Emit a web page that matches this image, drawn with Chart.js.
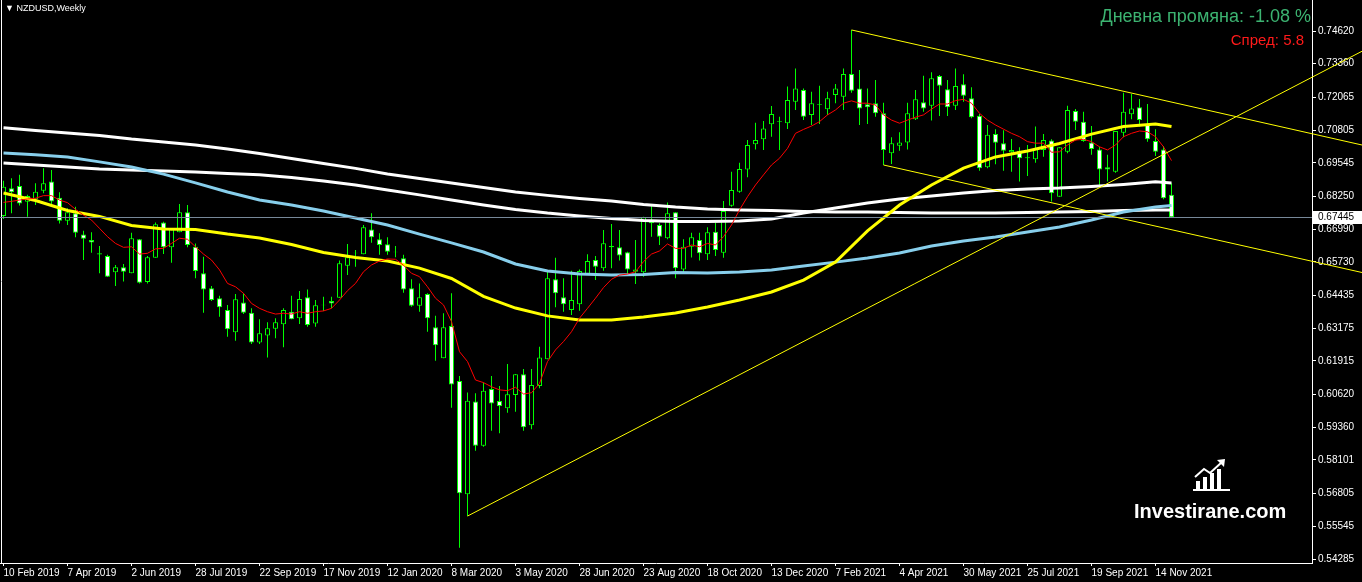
<!DOCTYPE html>
<html>
<head>
<meta charset="utf-8">
<script src="https://cdn.jsdelivr.net/npm/chart.js@4.4.0/dist/chart.umd.min.js"></script>
<style>
  html, body { margin: 0; padding: 0; background: #000; }
  #wrap { position: relative; width: 1362px; height: 582px; overflow: hidden; background: #000; }
  #chart { position: absolute; left: 0; top: 0; }
  .txt { position: absolute; font-family: 'Liberation Sans', Arial, sans-serif; white-space: nowrap; line-height: 1; }
  #sym { left: 5px; top: 4px; font-size: 9px; color: #fff; }
  #chg { right: 51px; top: 7px; font-size: 18px; color: #3cb371; }
  #spr { right: 58px; top: 32px; font-size: 15px; color: #ff1a1a; }
  #logo { left: 1134px; top: 457px; width: 160px; height: 64px; }
  #logo svg { position: absolute; left: 58px; top: 0; }
  #logo span { position: absolute; left: 0; top: 43px; font: bold 20px 'Liberation Sans', Arial, sans-serif; color: #fff; }
</style>
</head>
<body>
<div id="wrap">
  <canvas id="chart" width="1362" height="582"></canvas>
  <div class="txt" id="sym">&#9660; NZDUSD,Weekly</div>
  <div class="txt" id="chg">Дневна промяна: -1.08 %</div>
  <div class="txt" id="spr">Спред: 5.8</div>
  <div class="txt" id="logo">
    <svg width="40" height="34" viewBox="0 0 40 34">
      <g fill="#fff">
        <rect x="4" y="24" width="4" height="8"/>
        <rect x="11" y="20" width="4" height="12"/>
        <rect x="18" y="16" width="4" height="16"/>
        <rect x="25" y="12" width="4" height="20"/>
        <rect x="1" y="32" width="37" height="2"/>
        <path d="M25 3 L33 2 L32 10 Z"/>
      </g>
      <path d="M3 20 L12 12 L18 16 L30 5" stroke="#fff" stroke-width="2" fill="none"/>
    </svg>
    <span>Investirane.com</span>
  </div>
</div>
<script>
// NZDUSD weekly, 10 Feb 2019 .. 28 Nov 2021
const dateLabels = ['10 Feb 2019', '7 Apr 2019', '2 Jun 2019', '28 Jul 2019', '22 Sep 2019', '17 Nov 2019',
  '12 Jan 2020', '8 Mar 2020', '3 May 2020', '28 Jun 2020', '23 Aug 2020', '18 Oct 2020', '13 Dec 2020',
  '7 Feb 2021', '4 Apr 2021', '30 May 2021', '25 Jul 2021', '19 Sep 2021', '14 Nov 2021'];
const dateLabelBars = [0, 8, 16, 24, 32, 40, 48, 56, 64, 72, 80, 88, 96, 104, 112, 120, 128, 136, 144];

const priceTicks = [0.74620, 0.73360, 0.72065, 0.70805, 0.69545, 0.68250, 0.66990, 0.65730, 0.64435,
  0.63175, 0.61915, 0.60620, 0.59360, 0.58101, 0.56805, 0.55545, 0.54285];

const opens = [0.6750, 0.6856, 0.6865, 0.6804, 0.6814, 0.6847, 0.6882, 0.6820, 0.6731, 0.6760,
  0.6678, 0.6657, 0.6606, 0.6596, 0.6533, 0.6552, 0.6529, 0.6660, 0.6495, 0.6589,
  0.6725, 0.6629, 0.6687, 0.6764, 0.6631, 0.6529, 0.6471, 0.6433, 0.6388, 0.6302,
  0.6416, 0.6377, 0.6262, 0.6289, 0.6315, 0.6333, 0.6381, 0.6356, 0.6437, 0.6336,
  0.6406, 0.6422, 0.6435, 0.6558, 0.6606, 0.6602, 0.6698, 0.6660, 0.6641, 0.6612,
  0.6587, 0.6471, 0.6404, 0.6449, 0.6321, 0.6202, 0.6326, 0.6114, 0.5678, 0.6035,
  0.5865, 0.6083, 0.6037, 0.6009, 0.6060, 0.6140, 0.5944, 0.6095, 0.6198, 0.6506,
  0.6437, 0.6388, 0.6410, 0.6525, 0.6580, 0.6548, 0.6634, 0.6629, 0.6610, 0.6535,
  0.6533, 0.6728, 0.6715, 0.6664, 0.6764, 0.6544, 0.6631, 0.6657, 0.6602, 0.6689,
  0.6608, 0.6789, 0.6843, 0.6929, 0.7026, 0.7045, 0.7103, 0.7115, 0.7107, 0.7190,
  0.7235, 0.7139, 0.7181, 0.7161, 0.7216, 0.7209, 0.7296, 0.7241, 0.7180, 0.7184,
  0.7145, 0.6991, 0.7020, 0.7033, 0.7122, 0.7188, 0.7174, 0.7289, 0.7238, 0.7174,
  0.7257, 0.7203, 0.7136, 0.6937, 0.7065, 0.7030, 0.6995, 0.7001, 0.6976, 0.6968,
  0.7004, 0.7040, 0.6824, 0.6997, 0.7154, 0.7113, 0.7033, 0.7006, 0.6937, 0.6920,
  0.7070, 0.7141, 0.7168, 0.7103, 0.7038, 0.7006, 0.6831];
const highs = [0.6885, 0.6895, 0.6908, 0.6831, 0.6876, 0.6933, 0.6927, 0.6841, 0.6779, 0.6785,
  0.6693, 0.6687, 0.6634, 0.6600, 0.6561, 0.6565, 0.6685, 0.6661, 0.6596, 0.6725,
  0.6727, 0.6700, 0.6796, 0.6792, 0.6644, 0.6593, 0.6480, 0.6442, 0.6407, 0.6449,
  0.6452, 0.6394, 0.6352, 0.6340, 0.6356, 0.6394, 0.6442, 0.6461, 0.6467, 0.6426,
  0.6439, 0.6439, 0.6578, 0.6642, 0.6619, 0.6715, 0.6760, 0.6683, 0.6668, 0.6634,
  0.6600, 0.6506, 0.6490, 0.6452, 0.6365, 0.6375, 0.6452, 0.6133, 0.6070, 0.6067,
  0.6108, 0.6133, 0.6095, 0.6180, 0.6141, 0.6160, 0.6160, 0.6246, 0.6535, 0.6589,
  0.6510, 0.6539, 0.6544, 0.6602, 0.6596, 0.6696, 0.6719, 0.6696, 0.6612, 0.6657,
  0.6747, 0.6792, 0.6722, 0.6802, 0.6764, 0.6660, 0.6685, 0.6685, 0.6706, 0.6724,
  0.6807, 0.6920, 0.6955, 0.7042, 0.7109, 0.7115, 0.7173, 0.7132, 0.7248, 0.7318,
  0.7241, 0.7228, 0.7251, 0.7228, 0.7258, 0.7318, 0.7466, 0.7312, 0.7241, 0.7273,
  0.7186, 0.7053, 0.7072, 0.7186, 0.7235, 0.7290, 0.7303, 0.7293, 0.7273, 0.7318,
  0.7295, 0.7245, 0.7142, 0.7100, 0.7084, 0.7080, 0.7046, 0.7014, 0.7023, 0.7094,
  0.7065, 0.7045, 0.7014, 0.7174, 0.7162, 0.7151, 0.7096, 0.7016, 0.6985, 0.7077,
  0.7224, 0.7219, 0.7200, 0.7181, 0.7084, 0.7019, 0.6876];
const lows = [0.6738, 0.6760, 0.6790, 0.6747, 0.6792, 0.6837, 0.6792, 0.6721, 0.6715, 0.6668,
  0.6580, 0.6608, 0.6529, 0.6515, 0.6480, 0.6497, 0.6529, 0.6490, 0.6490, 0.6589,
  0.6603, 0.6570, 0.6687, 0.6629, 0.6510, 0.6377, 0.6422, 0.6362, 0.6285, 0.6269,
  0.6372, 0.6257, 0.6257, 0.6205, 0.6279, 0.6244, 0.6352, 0.6334, 0.6323, 0.6323,
  0.6384, 0.6394, 0.6435, 0.6522, 0.6554, 0.6602, 0.6647, 0.6600, 0.6600, 0.6591,
  0.6454, 0.6400, 0.6381, 0.6304, 0.6192, 0.6202, 0.6011, 0.5472, 0.5594, 0.5846,
  0.5861, 0.5923, 0.5913, 0.5992, 0.5996, 0.5923, 0.5928, 0.6086, 0.6198, 0.6398,
  0.6381, 0.6368, 0.6385, 0.6522, 0.6503, 0.6539, 0.6548, 0.6578, 0.6526, 0.6488,
  0.6516, 0.6670, 0.6638, 0.6660, 0.6510, 0.6529, 0.6590, 0.6578, 0.6580, 0.6596,
  0.6589, 0.6785, 0.6839, 0.6899, 0.7006, 0.7004, 0.7055, 0.7004, 0.7085, 0.7158,
  0.7119, 0.7100, 0.7104, 0.7139, 0.7184, 0.7158, 0.7224, 0.7100, 0.7104, 0.7132,
  0.6946, 0.6950, 0.7001, 0.7006, 0.7119, 0.7151, 0.7117, 0.7135, 0.7135, 0.7158,
  0.7190, 0.7126, 0.6924, 0.6933, 0.6949, 0.6924, 0.6920, 0.6882, 0.6904, 0.6955,
  0.6978, 0.6805, 0.6824, 0.6991, 0.7081, 0.7036, 0.6985, 0.6863, 0.6882, 0.6916,
  0.7053, 0.7122, 0.7094, 0.7036, 0.6981, 0.6814, 0.6742];
const closes = [0.6862, 0.6841, 0.6798, 0.6827, 0.6843, 0.6876, 0.6805, 0.6731, 0.6764, 0.6685,
  0.6662, 0.6648, 0.6601, 0.6516, 0.6552, 0.6535, 0.6664, 0.6493, 0.6591, 0.6718,
  0.6629, 0.6698, 0.6764, 0.6638, 0.6538, 0.6467, 0.6426, 0.6398, 0.6313, 0.6429,
  0.6377, 0.6262, 0.6298, 0.6317, 0.6340, 0.6388, 0.6352, 0.6430, 0.6330, 0.6406,
  0.6408, 0.6413, 0.6568, 0.6591, 0.6608, 0.6706, 0.6668, 0.6638, 0.6612, 0.6610,
  0.6467, 0.6404, 0.6437, 0.6356, 0.6252, 0.6321, 0.6101, 0.5682, 0.6038, 0.5865,
  0.6077, 0.6028, 0.6018, 0.6063, 0.6140, 0.5936, 0.6099, 0.6205, 0.6510, 0.6452,
  0.6410, 0.6426, 0.6538, 0.6576, 0.6554, 0.6645, 0.6629, 0.6597, 0.6544, 0.6544,
  0.6745, 0.6722, 0.6670, 0.6760, 0.6548, 0.6631, 0.6668, 0.6606, 0.6687, 0.6619,
  0.6769, 0.6850, 0.6931, 0.7023, 0.7042, 0.7087, 0.7142, 0.7113, 0.7196, 0.7241,
  0.7132, 0.7184, 0.7178, 0.7203, 0.7241, 0.7296, 0.7232, 0.7164, 0.7168, 0.7145,
  0.7004, 0.7030, 0.7033, 0.7145, 0.7199, 0.7164, 0.7280, 0.7251, 0.7168, 0.7250,
  0.7213, 0.7130, 0.6933, 0.7062, 0.7032, 0.7001, 0.7004, 0.6972, 0.6972, 0.7010,
  0.7042, 0.6837, 0.7014, 0.7158, 0.7113, 0.7038, 0.7008, 0.6929, 0.6929, 0.7077,
  0.7151, 0.7164, 0.7119, 0.7045, 0.6997, 0.6818, 0.67445];

// fast moving average (red), one value per bar
const fastMA = [0.6802, 0.6806, 0.6811, 0.6815, 0.6818, 0.6828, 0.6828, 0.6811, 0.6801, 0.6775,
  0.6753, 0.6734, 0.6702, 0.6670, 0.6644, 0.6629, 0.6631, 0.6603, 0.6606, 0.6623,
  0.6625, 0.6644, 0.6664, 0.6660, 0.6631, 0.6603, 0.6580, 0.6542, 0.6490, 0.6477,
  0.6452, 0.6413, 0.6394, 0.6381, 0.6372, 0.6375, 0.6372, 0.6381, 0.6375, 0.6381,
  0.6384, 0.6394, 0.6426, 0.6462, 0.6490, 0.6535, 0.6561, 0.6576, 0.6584, 0.6583,
  0.6560, 0.6529, 0.6516, 0.6477, 0.6433, 0.6407, 0.6343, 0.6227, 0.6189, 0.6118,
  0.6108, 0.6092, 0.6080, 0.6077, 0.6090, 0.6064, 0.6069, 0.6105, 0.6189, 0.6234,
  0.6266, 0.6304, 0.6356, 0.6394, 0.6433, 0.6474, 0.6506, 0.6522, 0.6526, 0.6535,
  0.6574, 0.6603, 0.6615, 0.6642, 0.6625, 0.6625, 0.6638, 0.6631, 0.6644, 0.6638,
  0.6670, 0.6715, 0.6773, 0.6824, 0.6869, 0.6908, 0.6946, 0.6972, 0.7010, 0.7068,
  0.7083, 0.7096, 0.7113, 0.7139, 0.7158, 0.7184, 0.7193, 0.7184, 0.7184, 0.7177,
  0.7139, 0.7119, 0.7107, 0.7119, 0.7130, 0.7139, 0.7161, 0.7181, 0.7181, 0.7194,
  0.7199, 0.7184, 0.7145, 0.7119, 0.7100, 0.7084, 0.7068, 0.7055, 0.7036, 0.7030,
  0.7030, 0.6995, 0.6997, 0.7023, 0.7042, 0.7045, 0.7036, 0.7016, 0.7004, 0.7023,
  0.7055, 0.7068, 0.7077, 0.7074, 0.7055, 0.7016, 0.6963];

// slower averages, read every 4th bar
const maBars = [0, 4, 8, 12, 16, 20, 24, 28, 32, 36, 40, 44, 48, 52, 56, 60, 64, 68, 72,
  76, 80, 84, 88, 92, 96, 100, 104, 108, 112, 116, 120, 124, 128, 132, 136, 140, 144, 146];
const yellowMA = [0.6838, 0.6809, 0.6771, 0.6748, 0.6713, 0.6700, 0.6698, 0.6680, 0.6665, 0.6640,
  0.6609, 0.6590, 0.6576, 0.6549, 0.6509, 0.6440, 0.6395, 0.6365, 0.6349, 0.6349,
  0.6361, 0.6376, 0.6399, 0.6426, 0.6457, 0.6503, 0.6572, 0.6692, 0.6792, 0.6869,
  0.6934, 0.6977, 0.7000, 0.7029, 0.7065, 0.7094, 0.7104, 0.7094];
const blueMA = [0.6992, 0.6985, 0.6977, 0.6958, 0.6938, 0.6911, 0.6877, 0.6842, 0.6811, 0.6792,
  0.6769, 0.6742, 0.6715, 0.6680, 0.6646, 0.6611, 0.6565, 0.6538, 0.6526, 0.6522,
  0.6524, 0.6532, 0.6530, 0.6534, 0.6542, 0.6557, 0.6572, 0.6588, 0.6607, 0.6634,
  0.6653, 0.6669, 0.6688, 0.6707, 0.6734, 0.6765, 0.6784, 0.6790];
const whiteSlowMA = [0.7089, 0.7079, 0.7069, 0.7060, 0.7046, 0.7035, 0.7023, 0.7008, 0.6990, 0.6971,
  0.6952, 0.6933, 0.6911, 0.6894, 0.6877, 0.6859, 0.6842, 0.6829, 0.6817, 0.6807,
  0.6794, 0.6784, 0.6777, 0.6773, 0.6771, 0.6767, 0.6765, 0.6765, 0.6763, 0.6761,
  0.6761, 0.6761, 0.6763, 0.6765, 0.6767, 0.6771, 0.6773, 0.6773];
const whiteMidMA = [0.6954, 0.6946, 0.6938, 0.6931, 0.6927, 0.6923, 0.6919, 0.6913, 0.6908, 0.6898,
  0.6884, 0.6869, 0.6850, 0.6831, 0.6811, 0.6792, 0.6775, 0.6761, 0.6750, 0.6740,
  0.6732, 0.6728, 0.6728, 0.6730, 0.6738, 0.6761, 0.6780, 0.6800, 0.6815, 0.6827,
  0.6838, 0.6848, 0.6854, 0.6857, 0.6863, 0.6871, 0.6881, 0.6877];

// trend lines: [bar, price] pairs
const channelTop = [[106, 0.7466], [169.8125, 0.7023]];
const channelBottom = [[110, 0.6946], [169.8125, 0.6532]];
const riseLine = [[58, 0.5594], [169.8125, 0.7384]];
const bidPrice = 0.67445;

const GREEN = '#00ff00';
const AXIS_FONT = { family: "'Liberation Sans', Arial, sans-serif", size: 10 };

const bars = opens.map((_, i) => i);
const wickData = bars.map(i => ({ x: i, y: [lows[i], highs[i]] }));
const bodyData = bars.map(i => ({ x: i, y: [opens[i], closes[i]] }));
const bodyFill = bars.map(i => (closes[i] < opens[i] ? '#ffffff' : '#000000'));
const toPoints = vals => maBars.map((b, k) => ({ x: b, y: vals[k] }));

function lineSet(data, color, width, order) {
  return {
    type: 'line',
    data,
    borderColor: color,
    borderWidth: width,
    pointRadius: 0,
    tension: 0,
    order,
  };
}

const overlays = {
  id: 'overlays',
  afterDatasetsDraw(chart) {
    const { ctx, chartArea, scales: { x, y } } = chart;
    ctx.save();
    // left edge marker line
    ctx.strokeStyle = '#ffffff';
    ctx.lineWidth = 1;
    ctx.beginPath();
    ctx.moveTo(chartArea.left + 1.5, chartArea.top);
    ctx.lineTo(chartArea.left + 1.5, chartArea.bottom);
    ctx.stroke();
    // bid line
    const py = Math.round(y.getPixelForValue(bidPrice)) + 0.5;
    ctx.strokeStyle = '#778899';
    ctx.beginPath();
    ctx.moveTo(chartArea.left, py);
    ctx.lineTo(chartArea.right, py);
    ctx.stroke();
    // trend lines
    ctx.strokeStyle = '#ffff00';
    [channelTop, channelBottom, riseLine].forEach(([a, b]) => {
      ctx.beginPath();
      ctx.moveTo(x.getPixelForValue(a[0]), y.getPixelForValue(a[1]));
      ctx.lineTo(x.getPixelForValue(b[0]), y.getPixelForValue(b[1]));
      ctx.stroke();
    });
    ctx.restore();
  },
  afterDraw(chart) {
    const { ctx, chartArea, scales: { y } } = chart;
    const py = Math.round(y.getPixelForValue(bidPrice));
    ctx.save();
    ctx.fillStyle = '#ffffff';
    ctx.fillRect(chartArea.right + 1, py - 6, 49, 13);
    ctx.fillStyle = '#000000';
    ctx.font = "10px 'Liberation Sans', Arial, sans-serif";
    ctx.textBaseline = 'middle';
    ctx.fillText(bidPrice.toFixed(5), chartArea.right + 6, py + 0.5);
    ctx.restore();
  },
};

new Chart(document.getElementById('chart'), {
  type: 'bar',
  data: {
    datasets: [
      { type: 'bar', data: wickData, backgroundColor: GREEN, grouped: false,
        categoryPercentage: 1, barPercentage: 0.125, order: 20 },
      { type: 'bar', data: bodyData, backgroundColor: bodyFill, borderColor: GREEN, borderWidth: 1,
        borderSkipped: false, grouped: false, categoryPercentage: 1, barPercentage: 0.625, order: 19 },
      lineSet(toPoints(whiteSlowMA), '#ffffff', 3, 6),
      lineSet(toPoints(whiteMidMA), '#ffffff', 3, 5),
      lineSet(toPoints(blueMA), '#87ceeb', 3, 4),
      lineSet(toPoints(yellowMA), '#ffff00', 3, 3),
      lineSet(bars.map(i => ({ x: i, y: fastMA[i] })), '#ff0000', 1, 2),
    ],
  },
  options: {
    responsive: false,
    animation: false,
    devicePixelRatio: 1,
    layout: { padding: 0 },
    plugins: { legend: { display: false }, tooltip: { enabled: false } },
    scales: {
      x: {
        type: 'linear',
        min: -0.4375,
        max: 163.5625,
        offset: false,
        afterBuildTicks: s => { s.ticks = dateLabelBars.map(v => ({ value: v })); },
        afterFit: s => { s.height = 19; s.paddingLeft = 0; s.paddingRight = 0; },
        ticks: { color: '#ffffff', font: AXIS_FONT, align: 'start', autoSkip: false,
          maxRotation: 0, minRotation: 0, padding: 1, callback: (v, i) => dateLabels[i] },
        grid: { drawOnChartArea: false, color: '#ffffff', tickLength: 3, offset: false },
        border: { color: '#ffffff' },
      },
      y: {
        position: 'right',
        min: 0.54133,
        max: 0.75814,
        afterBuildTicks: s => { s.ticks = priceTicks.map(v => ({ value: v })); },
        afterFit: s => { s.width = 50; s.paddingTop = 0; s.paddingBottom = 0; },
        ticks: { color: '#ffffff', font: AXIS_FONT, padding: 2, callback: v => v.toFixed(5) },
        grid: { drawOnChartArea: false, color: '#ffffff', tickLength: 4 },
        border: { color: '#ffffff' },
      },
    },
  },
  plugins: [overlays],
});
</script>
</body>
</html>
